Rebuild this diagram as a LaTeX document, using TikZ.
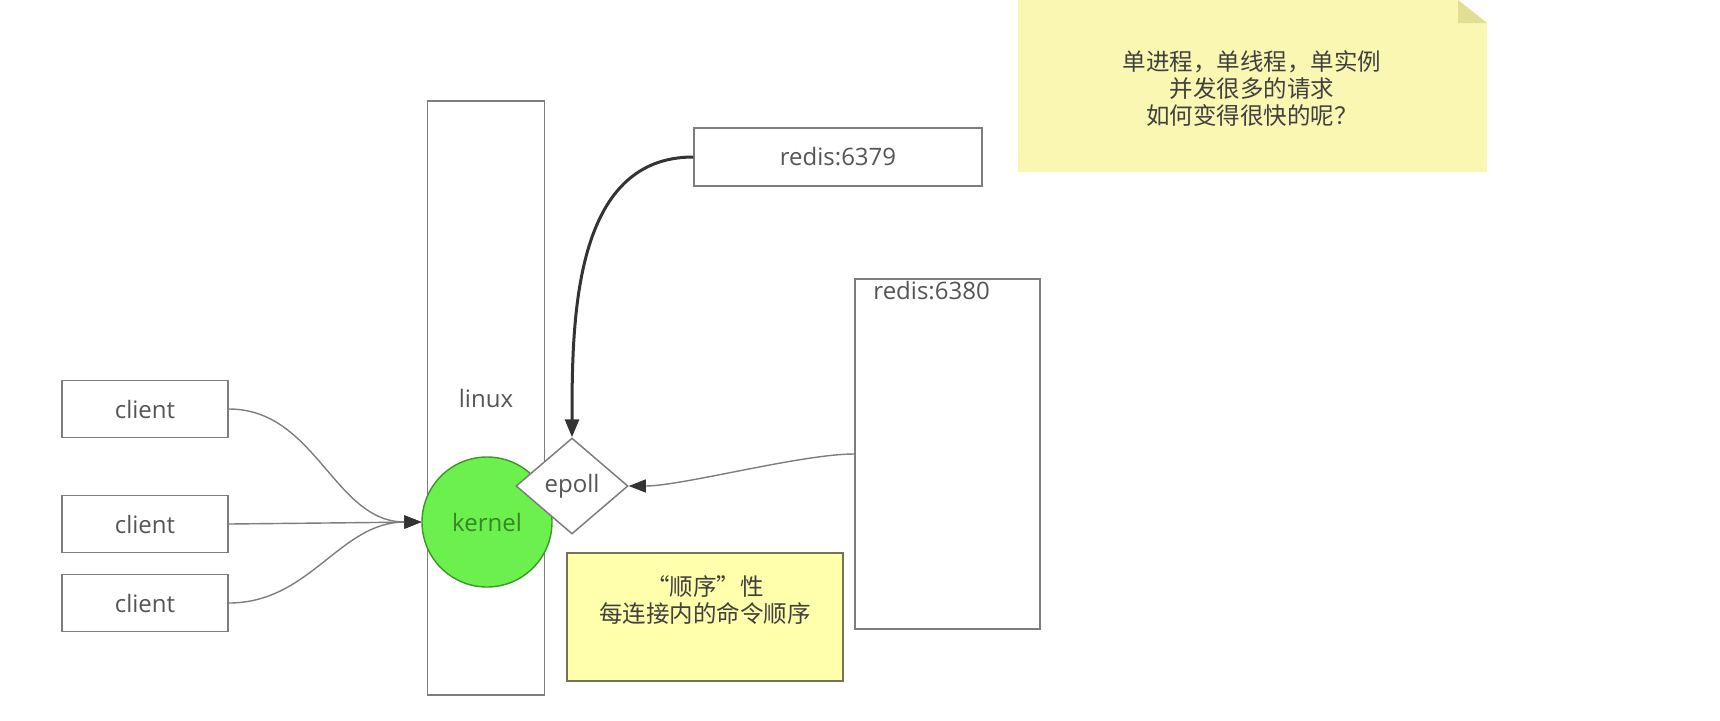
\documentclass[tikz,border=0pt]{standalone}
\usepackage{fontspec}
\setmainfont{Open Sans}
\newfontfamily\cjk{Noto Sans CJK SC}
\usetikzlibrary{shapes.geometric,arrows.meta}
\definecolor{boxgray}{RGB}{125,125,125}
\definecolor{txtgray}{RGB}{85,85,85}
\definecolor{kgreen}{RGB}{108,240,78}
\definecolor{kdark}{RGB}{60,150,40}
\definecolor{notefill}{RGB}{250,247,178}
\definecolor{notefold}{RGB}{226,222,150}
\definecolor{memofill}{RGB}{255,255,172}
\definecolor{memoline}{RGB}{115,115,90}

\begin{document}
\begin{tikzpicture}[x=1pt,y=-1pt,
	box/.style={draw=boxgray, line width=1.5pt, fill=white, inner sep=0pt,
		text=txtgray, font=\fontsize{24}{30}\selectfont},
	cjktext/.style={align=center, text=black!75,
		font=\cjk\fontsize{23.5}{27}\selectfont},
	wire/.style={draw=boxgray, line width=1.4pt,
		-{Triangle[length=17pt,width=13pt,color=black!80]}}]
	\useasboundingbox (0,0) rectangle (1720,720);
	
	% clients
	\node[box, minimum width=166, minimum height=57] (c1) at (145,409) {client};
	\node[box, minimum width=166, minimum height=57] (c2) at (145,524) {client};
	\node[box, minimum width=166, minimum height=57] (c3) at (145,603) {client};
	
	% linux, kernel, epoll
	\node[box, minimum width=117, minimum height=594] (linux) at (486,398) {linux};
	\node[circle, draw=kdark, line width=1.4pt, fill=kgreen, minimum size=130,
		inner sep=0pt, text=kdark!90!black, font=\fontsize{24}{30}\selectfont]
		(kernel) at (487,522) {kernel};
	\node[box, diamond, minimum width=112, minimum height=96] (epoll) at (572,486) {epoll};
	
	% redis instances
	\node[box, minimum width=288, minimum height=58] (r79) at (838,157) {redis:6379};
	\node[box, minimum width=185, minimum height=350] (r80) at (947.5,454) {};
	\node[anchor=north west, inner sep=0pt, text=txtgray, font=\fontsize{24}{30}\selectfont]
		(r80lbl) at ([xshift=19,yshift=-3]r80.north west) {redis:6380};
	
	% notes
	\node[draw=memoline, line width=1.4pt, fill=memofill, minimum width=276,
		minimum height=128, cjktext] (memo) at (705,617)
		{“顺序”性\\每连接内的命令顺序\\[8pt]};
	\fill[notefill] (1018,0) -- (1458,0) -- (1487,23) -- (1487,172) -- (1018,172) -- cycle;
	\fill[notefold] (1458,0) -- (1458,23) -- (1487,23) -- cycle;
	\node[cjktext] (note) at (1252,89) {单进程，单线程，单实例\\并发很多的请求\\如何变得很快的呢？};
	
	% connectors
	\draw[wire] (c1.east) to[out=0, in=180] (kernel.west);
	\draw[wire] (c2.east) -- (kernel.west);
	\draw[wire] (c3.east) to[out=0, in=180] (kernel.west);
	\draw[line width=3pt, draw=black!80, -{Triangle[length=18pt,width=14pt]}]
		(r79.west) to[out=180, in=90] (epoll.north);
	\draw[wire] (r80.west) to[out=180, in=0, looseness=0.6] (epoll.east);
\end{tikzpicture}
\end{document}
